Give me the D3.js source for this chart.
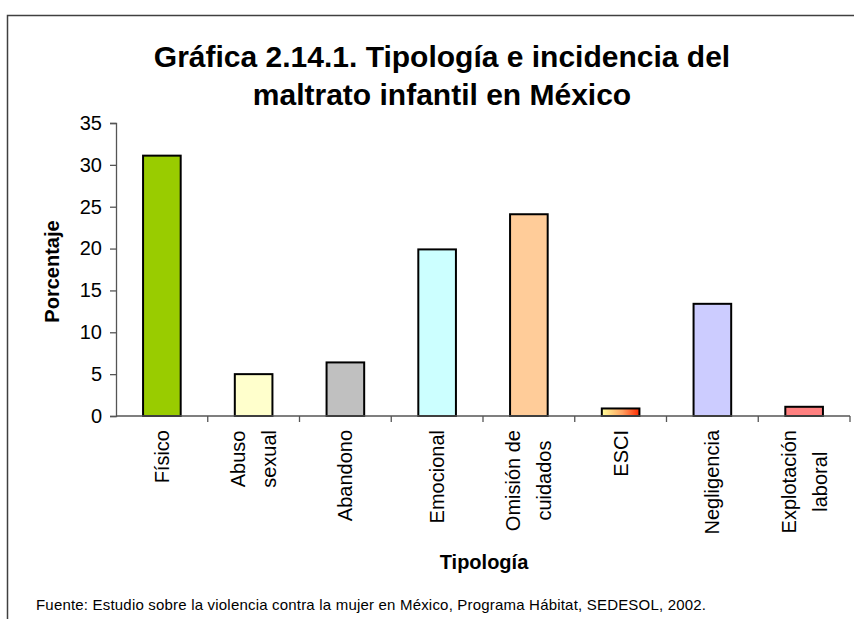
<!DOCTYPE html>
<html>
<head>
<meta charset="utf-8">
<script src="https://cdn.jsdelivr.net/npm/d3@7"></script>
<style>
  html, body { margin: 0; padding: 0; background: #fff; }
  svg { display: block; }
  text { font-family: "Liberation Sans", Arial, sans-serif; fill: #000; }
</style>
</head>
<body>
<svg id="chart" width="854" height="619"></svg>
<script>
// Tipología del maltrato infantil (porcentaje de casos)
const categories = [
  ["Físico"],
  ["Abuso", "sexual"],
  ["Abandono"],
  ["Emocional"],
  ["Omisión de", "cuidados"],
  ["ESCI"],
  ["Negligencia"],
  ["Explotación", "laboral"]
];
const values = [31.1, 5.0, 6.4, 19.9, 24.1, 0.9, 13.4, 1.1];
const fills = ["#99CC00", "#FFFFCC", "#C0C0C0", "#CCFFFF", "#FFCC99", "url(#fire)", "#CCCCFF", "#FF8080"];
const yTicks = [0, 5, 10, 15, 20, 25, 30, 35];

const titleLines = ["Gráfica 2.14.1. Tipología e incidencia del", "maltrato infantil en México"];
const yTitle = "Porcentaje";
const xTitle = "Tipología";
const source = "Fuente: Estudio sobre la violencia contra la mujer en México, Programa Hábitat, SEDESOL, 2002.";

const svg = d3.select("#chart");
const plot = { left: 116, right: 850, top: 123, bottom: 416 };

// gradient for the ESCI bar
const defs = svg.append("defs");
const grad = defs.append("linearGradient").attr("id", "fire")
  .attr("x1", "0%").attr("x2", "100%").attr("y1", "0%").attr("y2", "0%");
grad.append("stop").attr("offset", "0%").attr("stop-color", "#FFFF99");
grad.append("stop").attr("offset", "55%").attr("stop-color", "#FFA060");
grad.append("stop").attr("offset", "100%").attr("stop-color", "#FF2A00");

// outer chart frame
svg.append("rect")
  .attr("x", 7.5).attr("y", 15.5).attr("width", 860).attr("height", 620)
  .attr("fill", "none").attr("stroke", "#404040").attr("stroke-width", 1.5);

// title
svg.append("text")
  .attr("x", 442).attr("text-anchor", "middle")
  .style("font-weight", "bold").style("font-size", "30px")
  .selectAll("tspan").data(titleLines).join("tspan")
  .attr("x", 442).attr("y", (d, i) => 67 + i * 38)
  .text(d => d);

const x = d3.scaleBand()
  .domain(d3.range(categories.length))
  .range([plot.left, plot.right])
  .paddingInner(0.59).paddingOuter(0.295);

const y = d3.scaleLinear().domain([0, 35]).range([plot.bottom, plot.top]);

// bars
svg.append("g").selectAll("rect").data(values).join("rect")
  .attr("x", (d, i) => x(i))
  .attr("y", d => y(d))
  .attr("width", x.bandwidth())
  .attr("height", d => y(0) - y(d))
  .attr("fill", (d, i) => fills[i])
  .attr("stroke", "#000").attr("stroke-width", 2);

// y axis
const yAxis = svg.append("g")
  .attr("transform", `translate(${plot.left},0)`)
  .call(d3.axisLeft(y).tickValues(yTicks).tickSize(6).tickPadding(8).tickFormat(d3.format("d")));
yAxis.select(".domain").attr("stroke", "#555").attr("stroke-width", 1.3);
yAxis.selectAll(".tick line").attr("stroke", "#555").attr("stroke-width", 1.3);
yAxis.selectAll(".tick text")
  .style("font-size", "20px").style("font-family", "Liberation Sans, Arial, sans-serif").attr("fill", "#000");

// x axis line and category boundary ticks
const step = x.step();
const boundaries = d3.range(1, categories.length + 1).map(i => plot.left + i * step);
const xAxis = svg.append("g");
xAxis.append("line")
  .attr("x1", plot.left).attr("x2", plot.right)
  .attr("y1", y(0)).attr("y2", y(0))
  .attr("stroke", "#555").attr("stroke-width", 1.3);
xAxis.selectAll("line.tk").data(boundaries).join("line").attr("class", "tk")
  .attr("x1", d => d).attr("x2", d => d)
  .attr("y1", y(0)).attr("y2", y(0) + 6)
  .attr("stroke", "#555").attr("stroke-width", 1.3);

// rotated category labels
const labelTop = 430;
const lineGap = 31;
categories.forEach((lines, i) => {
  const cx = x(i) + x.bandwidth() / 2;
  const g = svg.append("g");
  const texts = lines.map((ln, k) => g.append("text")
    .style("font-size", "20px")
    .attr("text-anchor", "middle")
    .text(ln));
  const maxLen = d3.max(texts, t => t.node().getComputedTextLength());
  const cy = labelTop + maxLen / 2;
  texts.forEach((t, k) => {
    const bx = cx + (k - (lines.length - 1) / 2) * lineGap + 7;
    t.attr("transform", `translate(${bx},${cy}) rotate(-90)`);
  });
});

// axis titles
svg.append("text")
  .attr("transform", `translate(59,${(plot.top + plot.bottom) / 2 + 2}) rotate(-90)`)
  .attr("text-anchor", "middle")
  .style("font-weight", "bold").style("font-size", "20px")
  .text(yTitle);

svg.append("text")
  .attr("x", 484).attr("y", 569).attr("text-anchor", "middle")
  .style("font-weight", "bold").style("font-size", "20px")
  .text(xTitle);

// source note
svg.append("text")
  .attr("x", 36).attr("y", 610)
  .attr("textLength", 670).attr("lengthAdjust", "spacing")
  .style("font-size", "15px")
  .text(source);
</script>
</body>
</html>
